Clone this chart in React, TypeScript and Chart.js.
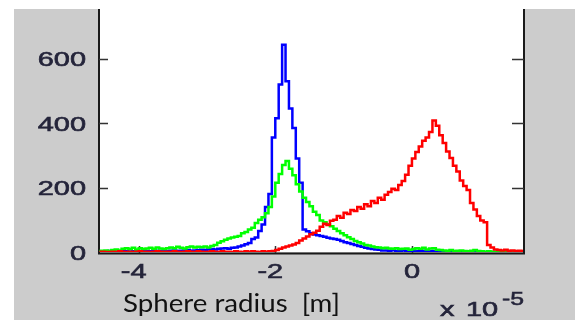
import React, { useEffect, useRef } from "react";
import { Chart, registerables } from "chart.js";

Chart.register(...registerables);

// Histogram bins (units of 1e-5 m): first bin centre and bin width
const binStart = -4.575;
const binWidth = 0.05;

const blueCounts = [
  1, 2, 1, 3, 2, 1, 2, 3, 2, 1,
  2, 3, 2, 4, 3, 2, 3, 4, 3, 2,
  3, 4, 5, 3, 4, 5, 6, 4, 5, 6,
  7, 6, 8, 9, 8, 10, 11, 12, 10, 13,
  14, 17, 20, 24, 28, 40, 45, 65, 85, 140,
  180, 355, 415, 520, 643, 530, 445, 385, 290, 215,
  70, 64, 58, 54, 52, 50, 47, 44, 42, 40,
  38, 34, 30, 28, 25, 22, 19, 16, 13, 11,
  9, 8, 7, 5, 5, 4, 6, 3, 4, 5,
  3, 4, 3, 2, 3, 4, 3, 2, 3, 2,
  3, 2, 2, 3, 2, 2, 1, 2, 1, 0,
  0, 0, 0, 0, 0, 0, 0, 0, 0, 0,
  0, 0, 0, 0, 0,
];

const greenCounts = [
  3, 4, 5, 3, 6, 8, 5, 10, 12, 9,
  13, 8, 12, 9, 11, 13, 10, 14, 11, 9,
  12, 14, 12, 16, 13, 11, 15, 17, 14, 16,
  15, 17, 14, 19, 22, 29, 33, 38, 42, 45,
  47, 50, 58, 62, 70, 75, 90, 100, 108, 120,
  140, 172, 215, 242, 270, 282, 258, 238, 210, 188,
  168, 155, 142, 125, 115, 98, 92, 86, 80, 72,
  65, 58, 52, 46, 40, 34, 30, 26, 22, 20,
  17, 15, 14, 12, 13, 11, 10, 12, 9, 10,
  11, 7, 9, 12, 10, 13, 8, 11, 12, 7,
  6, 5, 4, 6, 3, 4, 5, 3, 2, 4,
  6, 3, 2, 1, 2, 1, 1, 2, 1, 1,
  1, 0, 1, 0, 0,
];

const redCounts = [
  0, 1, 0, 0, 1, 0, 2, 1, 0, 1,
  0, 1, 2, 0, 1, 0, 1, 2, 1, 0,
  1, 0, 2, 1, 0, 1, 2, 1, 0, 2,
  1, 0, 1, 2, 1, 0, 2, 1, 1, 0,
  2, 1, 0, 2, 1, 2, 1, 0, 2, 1,
  2, 3, 6, 10, 14, 17, 20, 23, 28, 36,
  42, 48, 55, 60, 66, 78, 88, 84, 97, 100,
  112, 106, 122, 118, 130, 127, 140, 134, 148, 142,
  158, 152, 168, 162, 178, 186, 196, 192, 208, 220,
  240, 268, 290, 310, 327, 345, 355, 372, 408, 392,
  362, 338, 312, 292, 268, 250, 222, 205, 192, 152,
  132, 112, 98, 92, 22, 14, 8, 6, 5, 7,
  4, 5, 3, 4, 3,
];

const xTicks = [-4, -2, 0];
const yTicks = [0, 200, 400, 600];
const xMin = -4.58;
const xMax = 1.64;
const yMin = 0;
const yMax = 754;
const xLabel = "Sphere radius  [m]";
const xMultiplier = "x";
const xBase = "10";
const xExponent = "-5";

const binCenters = blueCounts.map((_, i) => +(binStart + i * binWidth).toFixed(4));
const toPoints = (arr: number[]) => arr.map((y, i) => ({ x: binCenters[i], y }));

const TICK_FONT = "21px 'Liberation Sans', Arial, sans-serif";
const TICK_COLOR = "#24243a";
const SX = 1.38;

function drawText(
  ctx: CanvasRenderingContext2D,
  text: string,
  x: number,
  y: number,
  font: string,
  align: CanvasTextAlign,
  sx: number,
  color: string,
  strokeW = 0
) {
  ctx.save();
  ctx.font = font;
  ctx.fillStyle = color;
  ctx.strokeStyle = color;
  ctx.textBaseline = "alphabetic";
  ctx.textAlign = align;
  ctx.translate(x, y);
  ctx.scale(sx, 1);
  ctx.fillText(text, 0, 0);
  if (strokeW > 0) {
    ctx.lineWidth = strokeW;
    ctx.strokeText(text, 0, 0);
  }
  ctx.restore();
}

const framePlugin = {
  id: "matlabFrame",
  beforeDraw(chart: any) {
    const { ctx, width, height, chartArea: a } = chart;
    ctx.save();
    ctx.fillStyle = "#ffffff";
    ctx.fillRect(0, 0, width, height);
    ctx.fillStyle = "#cccccc";
    ctx.fillRect(14, 9, width - 14, height - 9);
    ctx.fillStyle = "#ffffff";
    ctx.fillRect(a.left, a.top, a.right - a.left, a.bottom - a.top);
    ctx.restore();
  },
  beforeDatasetsDraw(chart: any) {
    const { ctx, chartArea: a, scales } = chart;
    const xs = scales.x;
    const ys = scales.y;
    ctx.save();
    ctx.strokeStyle = "#1a1a1a";
    ctx.lineWidth = 2;
    ctx.beginPath();
    ctx.moveTo(a.left, a.top);
    ctx.lineTo(a.left, a.bottom + 2.5);
    ctx.moveTo(a.right, a.top);
    ctx.lineTo(a.right, a.bottom + 2.5);
    ctx.moveTo(a.left - 1, a.bottom + 1.5);
    ctx.lineTo(a.right + 1, a.bottom + 1.5);
    ctx.stroke();
    ctx.lineWidth = 1.5;
    ctx.strokeStyle = "#333333";
    ctx.beginPath();
    yTicks.forEach((v) => {
      if (v === 0) return;
      const py = Math.round(ys.getPixelForValue(v)) + 0.5;
      ctx.moveTo(a.left, py);
      ctx.lineTo(a.left + 9, py);
      ctx.moveTo(a.right, py);
      ctx.lineTo(a.right - 12, py);
    });
    xTicks.forEach((v) => {
      const px = Math.round(xs.getPixelForValue(v)) + 0.5;
      ctx.moveTo(px, a.bottom + 1);
      ctx.lineTo(px, a.bottom - 6);
    });
    ctx.stroke();
    ctx.restore();
  },
  afterDraw(chart: any) {
    const { ctx, chartArea: a, scales } = chart;
    const xs = scales.x;
    const ys = scales.y;
    yTicks.forEach((v) => {
      const py = ys.getPixelForValue(v);
      drawText(ctx, String(v), 86, py + 7.5, TICK_FONT, "right", SX, TICK_COLOR, 0.6);
    });
    xTicks.forEach((v) => {
      const px = xs.getPixelForValue(v);
      drawText(ctx, String(v), px - (v < 0 ? 5 : 0), a.bottom + 26, TICK_FONT, "center", SX, TICK_COLOR, 0.6);
    });
    // axis title
    ctx.save();
    const labelFont = "25px Lato, 'Open Sans', sans-serif";
    ctx.font = labelFont;
    const w = ctx.measureText(xLabel).width;
    ctx.restore();
    drawText(ctx, xLabel, 123, 312, labelFont, "left", 217 / w, "#111111");
    // exponent
    drawText(ctx, xMultiplier, 440, 316, TICK_FONT, "left", SX, TICK_COLOR, 0.6);
    drawText(ctx, xBase, 466, 316, TICK_FONT, "left", SX, TICK_COLOR, 0.6);
    drawText(ctx, xExponent, 502, 305, "18px 'Liberation Sans', Arial, sans-serif", "left", SX, TICK_COLOR, 0.5);
  },
};

export default function App() {
  const ref = useRef<HTMLCanvasElement>(null);
  useEffect(() => {
    if (!ref.current) return;
    const lineDs = (data: number[], color: string, order: number) => ({
      data: toPoints(data),
      borderColor: color,
      backgroundColor: color,
      borderWidth: 2.5,
      pointRadius: 0,
      stepped: "middle" as const,
      fill: false,
      order,
    });
    const chart = new Chart(ref.current, {
      type: "line",
      data: {
        datasets: [
          lineDs(redCounts, "#ff0000", 0),
          lineDs(greenCounts, "#00ff00", 1),
          lineDs(blueCounts, "#0000ff", 2),
        ],
      },
      options: {
        animation: false,
        responsive: false,
        devicePixelRatio: 1,
        layout: { padding: { left: 99, right: 51, top: 9, bottom: 68 } },
        scales: {
          x: { type: "linear", min: xMin, max: xMax, display: false },
          y: { type: "linear", min: yMin, max: yMax, display: false },
        },
        plugins: { legend: { display: false }, tooltip: { enabled: false } },
        events: [],
      },
      plugins: [framePlugin],
    });
    return () => chart.destroy();
  }, []);
  return (
    <div style={{ position: "fixed", left: 0, top: 0, width: 575, height: 320 }}>
      <canvas ref={ref} width={575} height={320} style={{ display: "block", width: 575, height: 320 }} />
    </div>
  );
}
